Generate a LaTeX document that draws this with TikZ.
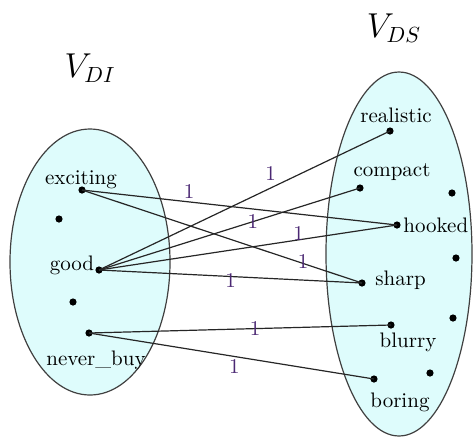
\documentclass[tikz,border=0pt]{standalone}
\definecolor{setfill}{RGB}{222,252,252}
\definecolor{wtcol}{RGB}{75,40,115}
\begin{document}
\begin{tikzpicture}[x=0.5pt,y=-0.5pt,
  dot/.style={circle,fill=black,inner sep=0pt,minimum size=3.6pt},
  setell/.style={draw=black!75,fill=setfill,line width=0.6pt},
  word/.style={inner sep=1pt,font=\fontsize{10.5}{12}\selectfont},
  wt/.style={inner sep=0pt,text=wtcol,font=\fontsize{10.5}{12}\selectfont},
  link/.style={line width=0.6pt,black!85},
  title/.style={inner sep=0pt,font=\fontsize{16}{18}\selectfont}]
\useasboundingbox (0,0) rectangle (473,436);
% sets
\draw[setell] (90,262) ellipse [x radius=80,y radius=133];
\draw[setell] (399,254) ellipse [x radius=73,y radius=182];
\node[title] (tdi) at (90,68) {$V_{DI}$};
\node[title] (tds) at (394,28) {$V_{DS}$};
% left dots
\node[dot] (exciting) at (82,190) {};
\node[dot] (l2) at (59,219) {};
\node[dot] (good) at (99,270) {};
\node[dot] (l4) at (73,302) {};
\node[dot] (never) at (89,333) {};
\node[word] at (81,180) {exciting};
\node[word] at (72,265) {good};
\node[word] at (96,360) {never\_buy};
% right dots
\node[dot] (realistic) at (390,131) {};
\node[dot] (compact) at (360,188) {};
\node[dot] (r3) at (452,193) {};
\node[dot] (hooked) at (397,225) {};
\node[dot] (r5) at (456,258) {};
\node[dot] (sharp) at (362,283) {};
\node[dot] (r7) at (453,318) {};
\node[dot] (blurry) at (391,325) {};
\node[dot] (r9) at (430,373) {};
\node[dot] (boring) at (374,379) {};
\node[word] at (396,115) {realistic};
\node[word] at (392,172) {compact};
\node[word,anchor=west] at (401,225) {hooked};
\node[word,anchor=west] at (373,280) {sharp};
\node[word] at (408,342) {blurry};
\node[word] at (400,402) {boring};
% links
\draw[link] (exciting.center) -- node[wt,pos=0.34,yshift=5pt]{1} (hooked.center);
\draw[link] (exciting.center) -- node[wt,pos=0.79,yshift=1pt]{1} (sharp.center);
\draw[link] (good.center) -- node[wt,pos=0.59,yshift=7pt]{1} (realistic.center);
\draw[link] (good.center) -- node[wt,pos=0.59]{1} (compact.center);
\draw[link] (good.center) -- node[wt,pos=0.67,yshift=3pt]{1} (hooked.center);
\draw[link] (good.center) -- node[wt,pos=0.5,yshift=-2pt]{1} (sharp.center);
\draw[link] (never.center) -- node[wt,pos=0.55]{1} (blurry.center);
\draw[link] (never.center) -- node[wt,pos=0.51,yshift=-5pt]{1} (boring.center);
\end{tikzpicture}
\end{document}
